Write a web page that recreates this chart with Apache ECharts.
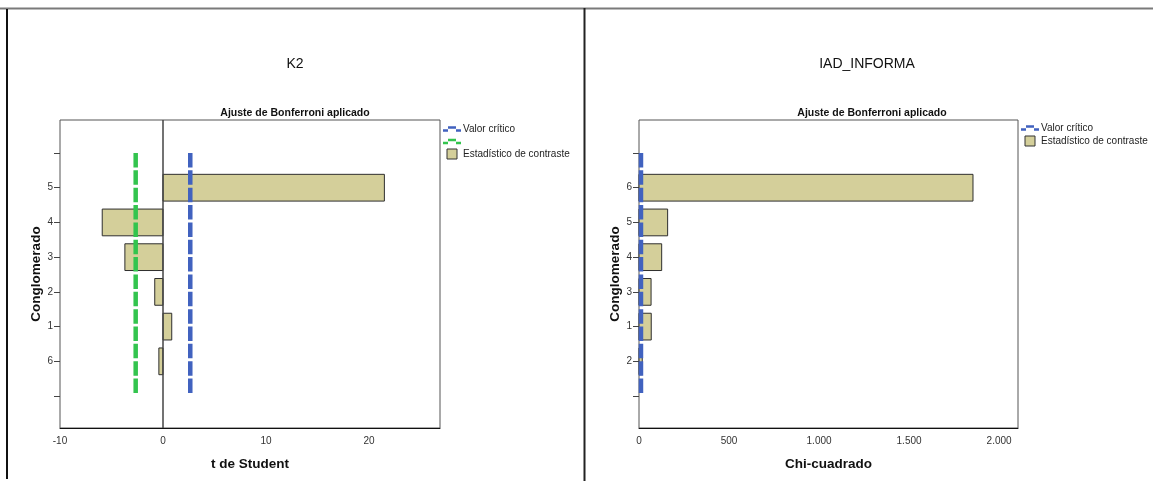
<!DOCTYPE html>
<html>
<head>
<meta charset="utf-8">
<script src="https://cdn.jsdelivr.net/npm/echarts@6/dist/echarts.min.js"></script>
<style>
  html, body { margin: 0; padding: 0; background: #ffffff; }
  #chart { width: 1153px; height: 481px; }
</style>
</head>
<body>
<div id="chart"></div>
<script>
// K2: t de Student per conglomerado (listed top to bottom)
const k2Clusters = ['5', '4', '3', '2', '1', '6'];
const k2Values = [21.5, -5.9, -3.7, -0.8, 0.85, -0.4];
const k2Critical = 2.65;
const k2XTicks = [-10, 0, 10, 20];

// IAD_INFORMA: Chi-cuadrado per conglomerado (listed top to bottom)
const iadClusters = ['6', '5', '4', '3', '1', '2'];
const iadValues = [1855, 159, 126, 67, 68, 18];
const iadCritical = 11;
const iadXTicks = [0, 500, 1000, 1500, 2000];

const FONT = "'Liberation Sans', Arial, sans-serif";
const BAR_FILL = '#d4cf9a';
const BLUE = '#4162bf';
const GREEN = '#33c44e';
const LEGEND_LINE_ICON = 'path://M0,3h5v2.5h-5z M5,0h8v2.5h-8z M13,3h5v2.5h-5z';
const LEGEND_BOX_ICON = 'path://M0,0h10v10h-10z';

// Clusters sit on integer slots: top label at slot n, bottom label at slot 1,
// with empty end slots at n+1 and 0 (tick only).
function slotsFor(labels) { return labels.map((_, i) => labels.length - i); }
function barData(labels, values) {
  const slots = slotsFor(labels);
  return values.map((v, i) => [v, slots[i]]);
}

function renderBar(params, api) {
  const v = api.value(0);
  const slot = api.value(1);
  const a = api.coord([0, slot]);
  const b = api.coord([v, slot]);
  const h = api.size([0, 0.77])[1];
  return {
    type: 'rect',
    shape: { x: Math.min(a[0], b[0]), y: a[1] - h / 2, width: Math.abs(b[0] - a[0]), height: h },
    style: { fill: BAR_FILL, stroke: '#2e2e2e', lineWidth: 1 }
  };
}

function yAxisFor(labels, gridIndex) {
  const n = labels.length;
  const tickSlots = [];
  for (let s = 0; s <= n + 1; s++) tickSlots.push(s);
  return {
    type: 'value', gridIndex,
    min: -0.92, max: n + 1.95,
    name: 'Conglomerado', nameLocation: 'middle', nameGap: 16,
    nameTextStyle: { fontFamily: FONT, fontSize: 13.5, fontWeight: 'bold', color: '#111' },
    axisLine: { show: false, onZero: false },
    splitLine: { show: false },
    axisTick: { show: true, length: 6, customValues: tickSlots, lineStyle: { color: '#444', width: 1 } },
    axisLabel: {
      margin: 7, fontFamily: FONT, fontSize: 10, color: '#333',
      customValues: slotsFor(labels),
      formatter: (v) => labels[n - v] || ''
    }
  };
}

function xAxisFor(gridIndex, min, max, ticks, title, fmt) {
  return {
    type: 'value', gridIndex, min, max,
    name: title, nameLocation: 'middle', nameGap: 29,
    nameTextStyle: { fontFamily: FONT, fontSize: 13.5, fontWeight: 'bold', color: '#111' },
    axisLine: { show: true, onZero: false, lineStyle: { color: '#111', width: 1 } },
    axisTick: { show: false },
    splitLine: { show: false },
    axisLabel: { margin: 8, fontFamily: FONT, fontSize: 10, color: '#333', customValues: ticks, formatter: fmt }
  };
}

function criticalLine(name, x, top, color, xi, yi) {
  return {
    type: 'line', name, xAxisIndex: xi, yAxisIndex: yi, z: 5,
    data: [[x, top], [x, 0]],
    symbol: 'none', showSymbol: false, color,
    lineStyle: { color, width: 4.5, type: [14.5, 2.85] },
    silent: true, animation: false
  };
}

const thousands = (v) => String(v).replace(/\B(?=(\d{3})+(?!\d))/g, '.');

const legendText = { fontFamily: FONT, fontSize: 10, color: '#222', lineHeight: 12, padding: [0, 0, 0, -3] };

const option = {
  backgroundColor: '#ffffff',
  animation: false,
  title: [
    { text: 'K2', left: 290, top: 52, textAlign: 'center',
      textStyle: { fontFamily: FONT, fontSize: 14, fontWeight: 'normal', color: '#111' } },
    { text: 'Ajuste de Bonferroni aplicado', left: 290, top: 103, textAlign: 'center',
      textStyle: { fontFamily: FONT, fontSize: 10.5, fontWeight: 'bold', color: '#111' } },
    { text: 'IAD_INFORMA', left: 862, top: 52, textAlign: 'center',
      textStyle: { fontFamily: FONT, fontSize: 14, fontWeight: 'normal', color: '#111' } },
    { text: 'Ajuste de Bonferroni aplicado', left: 867, top: 103, textAlign: 'center',
      textStyle: { fontFamily: FONT, fontSize: 10.5, fontWeight: 'bold', color: '#111' } }
  ],
  legend: [
    {
      orient: 'vertical', left: 443, top: 123, padding: 0, itemGap: 0.5,
      itemWidth: 18, itemHeight: 10, textStyle: legendText, selectedMode: false,
      data: [
        { name: 'Valor crítico', icon: LEGEND_LINE_ICON, itemStyle: { color: BLUE } },
        { name: '\u00a0', icon: LEGEND_LINE_ICON, itemStyle: { color: GREEN } },
        { name: 'Estadístico de contraste', icon: LEGEND_BOX_ICON,
          itemStyle: { color: BAR_FILL, borderColor: '#333', borderWidth: 1 } }
      ]
    },
    {
      orient: 'vertical', left: 1021, top: 122, padding: 0, itemGap: 1,
      itemWidth: 18, itemHeight: 10, textStyle: legendText, selectedMode: false,
      data: [
        { name: 'Valor crítico', icon: LEGEND_LINE_ICON, itemStyle: { color: BLUE } },
        { name: 'Estadístico de contraste', icon: LEGEND_BOX_ICON,
          itemStyle: { color: BAR_FILL, borderColor: '#333', borderWidth: 1 } }
      ]
    }
  ],
  grid: [
    { left: 60, top: 120, width: 380, height: 308, show: true, borderColor: '#555', borderWidth: 1, backgroundColor: 'transparent' },
    { left: 639, top: 120, width: 379, height: 308, show: true, borderColor: '#555', borderWidth: 1, backgroundColor: 'transparent' }
  ],
  xAxis: [
    xAxisFor(0, -10, 26.9, k2XTicks, 't de Student'),
    xAxisFor(1, 0, 2105, iadXTicks, 'Chi-cuadrado', thousands)
  ],
  yAxis: [
    yAxisFor(k2Clusters, 0),
    yAxisFor(iadClusters, 1)
  ],
  series: [
    {
      type: 'custom', name: 'Estadístico de contraste', xAxisIndex: 0, yAxisIndex: 0, z: 2,
      itemStyle: { color: BAR_FILL },
      renderItem: renderBar, data: barData(k2Clusters, k2Values),
      markLine: {
        silent: true, symbol: 'none', label: { show: false },
        lineStyle: { color: '#444', width: 1.5, type: 'solid' },
        data: [{ xAxis: 0 }]
      }
    },
    criticalLine('Valor crítico', k2Critical, k2Clusters.length + 1, BLUE, 0, 0),
    criticalLine('\u00a0', -k2Critical, k2Clusters.length + 1, GREEN, 0, 0),
    {
      type: 'custom', name: 'Estadístico de contraste', xAxisIndex: 1, yAxisIndex: 1, z: 2,
      itemStyle: { color: BAR_FILL },
      renderItem: renderBar, data: barData(iadClusters, iadValues)
    },
    criticalLine('Valor crítico', iadCritical, iadClusters.length + 1, BLUE, 1, 1)
  ],
  graphic: [
    // panel frame
    { type: 'line', shape: { x1: 0, y1: 8.5, x2: 1153, y2: 8.5 }, style: { stroke: '#7a7a7a', lineWidth: 2 }, silent: true },
    { type: 'line', shape: { x1: 7, y1: 9, x2: 7, y2: 479 }, style: { stroke: '#111', lineWidth: 2 }, silent: true },
    { type: 'line', shape: { x1: 584.5, y1: 8, x2: 584.5, y2: 481 }, style: { stroke: '#222', lineWidth: 2 }, silent: true }
  ]
};

const chart = echarts.init(document.getElementById('chart'), null, { renderer: 'canvas' });
chart.setOption(option);
</script>
</body>
</html>
